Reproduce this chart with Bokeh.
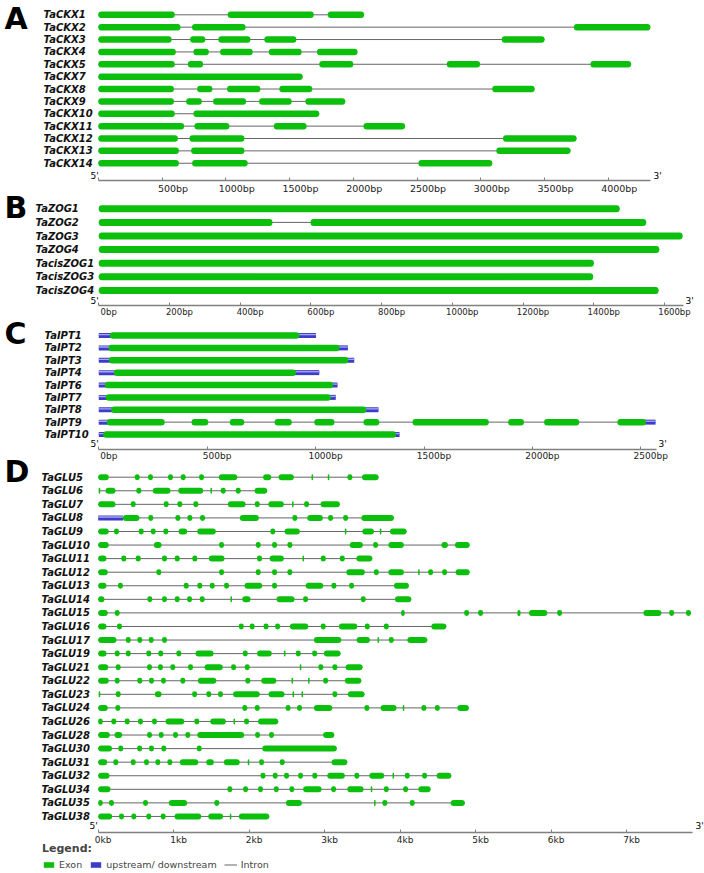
from bokeh.plotting import figure
from bokeh.models import Range1d, LinearAxis, FixedTicker, Label, Legend, LegendItem
from bokeh.embed import file_html
from bokeh.resources import INLINE
from bokeh.core.properties import value

EXON = "#0dbf0d"
UTR = "#3c3cc8"
UTR_HI = "#a9a9f2"
INTRON = "#666666"
AXIS = "#808080"
FONT = "DejaVu Sans"

# ---------------- data (bp) ----------------
ckx_genes = ["TaCKX1", "TaCKX2", "TaCKX3", "TaCKX4", "TaCKX5", "TaCKX7", "TaCKX8",
             "TaCKX9", "TaCKX10", "TaCKX11", "TaCKX12", "TaCKX13", "TaCKX14"]
ckx_exons = [
    [(0, 600), (1015, 1690), (1800, 2085)],
    [(0, 645), (735, 1155), (3730, 4330)],
    [(0, 575), (720, 840), (942, 1193), (1302, 1553), (3164, 3500)],
    [(0, 608), (746, 867), (955, 1211), (1337, 1595), (1715, 2033)],
    [(0, 600), (702, 822), (1733, 2000), (2733, 2994), (3860, 4179)],
    [(0, 1603)],
    [(0, 593), (775, 895), (1010, 1271), (1420, 1678), (3090, 3422)],
    [(0, 593), (689, 812), (900, 1159), (1261, 1517), (1624, 1937)],
    [(0, 600), (746, 1733)],
    [(0, 673), (754, 1028), (1376, 1634), (2080, 2406)],
    [(0, 624), (715, 1146), (3174, 3751)],
    [(0, 632), (728, 1146), (3122, 3704)],
    [(0, 632), (736, 1172), (2511, 3090)],
]
ckx_ticks = [0, 500, 1000, 1500, 2000, 2500, 3000, 3500, 4000]
ckx_tick_labels = ["", "500bp", "1000bp", "1500bp", "2000bp", "2500bp", "3000bp", "3500bp", "4000bp"]
ckx_axis_end = 4330

zog_genes = ["TaZOG1", "TaZOG2", "TaZOG3", "TaZOG4", "TacisZOG1", "TacisZOG3", "TacisZOG4"]
zog_exons = [[(0, 1473)], [(0, 491), (599, 1548)], [(0, 1651)], [(0, 1585)],
             [(0, 1400)], [(0, 1398)], [(0, 1583)]]
zog_ticks = [0, 200, 400, 600, 800, 1000, 1200, 1400, 1600]
zog_tick_labels = ["0bp", "200bp", "400bp", "600bp", "800bp", "1000bp", "1200bp", "1400bp", "1600bp"]
zog_axis_end = 1653

ipt_genes = ["TaIPT1", "TaIPT2", "TaIPT3", "TaIPT4", "TaIPT6", "TaIPT7", "TaIPT8", "TaIPT9", "TaIPT10"]
ipt_utr5_end = [51, 45, 47, 70, 28, 32, 57, 37, 20]
ipt_exons = [
    [(51, 925)], [(45, 1110)], [(47, 1151)], [(70, 909)], [(28, 1081)], [(32, 1070)], [(57, 1234)],
    [(37, 304), (428, 505), (604, 671), (811, 890), (994, 1087), (1221, 1294), (1447, 1799),
     (1888, 1961), (2054, 2216), (2392, 2524)],
    [(20, 1371)],
]
ipt_gene_end = [1002, 1149, 1178, 1017, 1101, 1093, 1290, 2568, 1387]
ipt_ticks = [0, 500, 1000, 1500, 2000, 2500]
ipt_tick_labels = ["0bp", "500bp", "1000bp", "1500bp", "2000bp", "2500bp"]
ipt_axis_end = 2572

glu_genes = ["TaGLU5", "TaGLU6", "TaGLU7", "TaGLU8", "TaGLU9", "TaGLU10", "TaGLU11", "TaGLU12",
             "TaGLU13", "TaGLU14", "TaGLU15", "TaGLU16", "TaGLU17", "TaGLU19", "TaGLU21", "TaGLU22",
             "TaGLU23", "TaGLU24", "TaGLU26", "TaGLU28", "TaGLU30", "TaGLU31", "TaGLU32", "TaGLU34",
             "TaGLU35", "TaGLU38"]
glu_utr5_end = [0, 0, 0, 318, 0, 0, 0, 0, 0, 0, 0, 0, 0, 0, 0, 0, 0, 0, 0, 0, 0, 0, 0, 0, 0, 0]
glu_exons = [
    [(0, 140), (484, 550), (660, 726), (925, 991), (1093, 1159), (1336, 1402), (1598, 1842), (2184, 2292), (2389, 2592), (2826, 2846), (3041, 3061), (3301, 3367), (3493, 3714)],
    [(7, 27), (97, 229), (505, 571), (723, 958), (1060, 1391), (1487, 1507), (1623, 1689), (1822, 1888), (2071, 2239)],
    [(0, 229), (431, 497), (868, 934), (1048, 1114), (1260, 1326), (1717, 1952), (2074, 2140), (2253, 2459), (2568, 2588), (2727, 2793), (2945, 3201)],
    [(326, 547), (664, 730), (1022, 1088), (1181, 1247), (1349, 1415), (1876, 2128), (2572, 2638), (2769, 2976), (3045, 3111), (3244, 3310), (3485, 3917)],
    [(0, 140), (209, 275), (537, 603), (696, 762), (863, 929), (1064, 1179), (1312, 1558), (2280, 2346), (2468, 2671), (3267, 3287), (3498, 3652), (3730, 3750), (3864, 4085)],
    [(0, 140), (737, 839), (1601, 1667), (2087, 2153), (2303, 2369), (2506, 2572), (3330, 3506), (3641, 3707), (3843, 4049), (4545, 4632), (4725, 4920)],
    [(0, 110), (306, 372), (497, 563), (845, 911), (1014, 1080), (1247, 1313), (1465, 1673), (2104, 2170), (2270, 2459), (2706, 2726), (2948, 3014), (3200, 3266), (3419, 3631)],
    [(0, 127), (770, 836), (1601, 1667), (2087, 2153), (2303, 2369), (2506, 2572), (3286, 3532), (3651, 3717), (3843, 4049), (4238, 4258), (4370, 4436), (4555, 4621), (4734, 4920)],
    [(0, 110), (262, 328), (1133, 1199), (1313, 1379), (1478, 1544), (1667, 1733), (1938, 2173), (2303, 2369), (2747, 2981), (3089, 3155), (3323, 3389), (3917, 4115)],
    [(0, 83), (651, 717), (845, 911), (1014, 1080), (1177, 1243), (1345, 1411), (1752, 1772), (1908, 2018), (2362, 2601), (2714, 2780), (3478, 3544), (3930, 4147)],
    [(0, 127), (219, 285), (4013, 4059), (4847, 4913), (5032, 5098), (5553, 5593), (5705, 5949), (6079, 6145), (7221, 7460), (7563, 7629), (7785, 7851)],
    [(0, 110), (249, 315), (1862, 1928), (2007, 2073), (2190, 2256), (2343, 2409), (2539, 2783), (2948, 3014), (3188, 3432), (3531, 3597), (3783, 3849), (4412, 4611)],
    [(0, 242), (365, 431), (518, 584), (669, 735), (845, 911), (2857, 3220), (3422, 3599), (3700, 3720), (3849, 3915), (4094, 4359)],
    [(0, 110), (219, 285), (365, 431), (637, 703), (796, 862), (1035, 1101), (1289, 1528), (1915, 1981), (2104, 2299), (2460, 2480), (2617, 2683), (2834, 2900), (2989, 3210)],
    [(0, 133), (232, 298), (647, 713), (792, 858), (955, 1021), (1190, 1256), (1408, 1650), (1760, 1826), (1941, 2007), (2670, 2690), (2916, 2982), (3102, 3168), (3277, 3502)],
    [(0, 140), (219, 285), (518, 584), (673, 739), (832, 898), (1088, 1154), (1320, 1564), (1949, 2015), (2160, 2359), (2561, 2581), (2780, 2800), (2979, 3045), (3267, 3485)],
    [(7, 27), (232, 298), (750, 839), (1244, 1310), (1432, 1498), (1587, 1653), (1786, 2140), (2256, 2468), (2574, 2594), (2693, 2713), (3102, 3168), (3307, 3528)],
    [(0, 127), (227, 293), (1909, 1975), (2074, 2140), (2482, 2548), (2634, 2700), (2857, 3101), (3526, 3592), (3740, 3952), (4034, 4054), (4281, 4347), (4459, 4525), (4757, 4910)],
    [(0, 60), (174, 240), (351, 417), (527, 593), (713, 779), (892, 1140), (1273, 1339), (1484, 1691), (1792, 1812), (1932, 1998), (2117, 2385)],
    [(0, 154), (216, 318), (647, 713), (802, 868), (991, 1057), (1154, 1220), (1312, 1934), (2078, 2144), (2263, 2329), (2979, 3127)],
    [(0, 183), (266, 332), (516, 582), (673, 739), (836, 902), (1305, 1371), (2173, 3161)],
    [(0, 119), (200, 266), (431, 497), (607, 673), (757, 823), (916, 982), (1081, 1325), (1431, 1532), (1664, 1875), (1981, 2001), (2131, 2197), (2405, 2471), (3091, 3299)],
    [(0, 150), (2150, 2216), (2312, 2378), (2462, 2528), (2647, 2713), (2836, 2902), (3034, 3267), (3393, 3459), (3591, 3789), (3899, 3919), (4061, 4127), (4290, 4356), (4482, 4677)],
    [(0, 163), (1711, 1777), (1919, 1985), (2117, 2183), (2326, 2392), (2532, 2598), (2714, 2959), (3085, 3151), (3299, 3515), (3610, 3630), (3783, 3849), (4039, 4105), (4240, 4403)],
    [(0, 60), (143, 209), (594, 660), (935, 1179), (1538, 1604), (2486, 2698), (3654, 3674), (3764, 3830), (4127, 4193), (4668, 4857)],
    [(0, 185), (276, 342), (439, 505), (637, 703), (828, 894), (1011, 1365), (1457, 1654), (1743, 1763), (1863, 2266)],
]
glu_ticks = [0, 1000, 2000, 3000, 4000, 5000, 6000, 7000]
glu_tick_labels = ["0kb", "1kb", "2kb", "3kb", "4kb", "5kb", "6kb", "7kb"]
glu_axis_end = 7868

legend_labels = ["Exon", "upstream/ downstream", "Intron"]

# ---------------- one canvas, one horizontal bp-scale per panel ----------------
W, H = 704, 873


def xr(px0, ppu):
    # horizontal range (bp) such that bp 0 sits at pixel px0 and 1 bp = ppu px
    return Range1d((0 - px0) / ppu, (W - px0) / ppu)


A_PX0, A_PPU = 97.8, 0.1275
B_PX0, B_PPU = 98.3, 0.3536
C_PX0, C_PPU = 98.3, 0.2168
D_PX0, D_PPU = 97.7, 0.0755

p = figure(width=W, height=H, x_range=xr(A_PX0, A_PPU), y_range=Range1d(H, 0),
           x_axis_type=None, y_axis_type=None, toolbar_location=None,
           output_backend="svg", min_border=0, outline_line_color=None)
p.min_border_left = p.min_border_right = p.min_border_top = p.min_border_bottom = 0
p.extra_x_ranges = {"B": xr(B_PX0, B_PPU), "C": xr(C_PX0, C_PPU), "D": xr(D_PX0, D_PPU)}


def draw_genes(rn, px0, ppu, row0, step, genes, exons, label_px, exon_h, utr5=None, gene_end=None, utr_h=5.0):
    n = len(genes)
    rows = [row0 + i * step for i in range(n)]
    ix0, ix1, iy = [], [], []
    ul, ur, uy = [], [], []
    el, er, ey = [], [], []
    for i, ex in enumerate(exons):
        start = min(a for a, b in ex)
        end = max(b for a, b in ex)
        if utr5 is not None and utr5[i] > 0:
            ul.append(0); ur.append(utr5[i] + 10); uy.append(rows[i])
            start = 0
        if gene_end is not None and gene_end[i] > end:
            ul.append(end - 10); ur.append(gene_end[i]); uy.append(rows[i])
            end = gene_end[i]
        ix0.append(start); ix1.append(end); iy.append(rows[i])
        for a, b in ex:
            el.append(a); er.append(b); ey.append(rows[i])
    r_int = p.segment(x0=ix0, y0=iy, x1=ix1, y1=iy, line_color=INTRON, line_width=1, x_range_name=rn)
    r_utr = None
    if ul:
        r_utr = p.hbar(y=uy, left=ul, right=ur, height=utr_h, fill_color=UTR, line_color=None, x_range_name=rn)
        p.hbar(y=[v - 0.9 for v in uy], left=ul, right=ur, height=1.3,
               fill_color=UTR_HI, line_color=None, x_range_name=rn)
    r_ex = p.hbar(y=ey, left=el, right=er, height=exon_h, fill_color=EXON,
                  line_color=None, border_radius=3, x_range_name=rn)
    lx = (label_px - px0) / ppu
    p.text(x=[lx] * n, y=rows, text=genes, text_font=value(FONT),
           text_font_style="bold italic", text_font_size="10px", text_baseline="middle",
           text_align="left", text_color="#111111", x_range_name=rn)
    return r_int, r_utr, r_ex


def add_axis(rn, ppu, axis_py, end, ticks, labels, fs, shift_px):
    ax = LinearAxis(x_range_name=rn, fixed_location=axis_py, bounds=(0, end),
                    ticker=FixedTicker(ticks=ticks), major_label_overrides={t: "" for t in ticks})
    ax.axis_line_color = AXIS
    ax.axis_line_width = 1.5
    ax.major_tick_in = 3
    ax.major_tick_out = 0
    ax.major_tick_line_color = AXIS
    ax.minor_tick_line_color = None
    ax.major_label_text_font_size = fs
    p.add_layout(ax, "below")
    # tick labels: in the reference each label starts just left of its tick
    lt = [round(t + shift_px / ppu) for t, l in zip(ticks, labels) if l]
    ll = [l for l in labels if l]
    lab = LinearAxis(x_range_name=rn, fixed_location=axis_py, ticker=FixedTicker(ticks=lt),
                     major_label_overrides={t: l for t, l in zip(lt, ll)})
    lab.axis_line_color = None
    lab.major_tick_line_color = None
    lab.minor_tick_line_color = None
    lab.major_tick_in = 0
    lab.major_tick_out = 0
    lab.major_label_standoff = 2
    lab.major_label_text_font = FONT
    lab.major_label_text_font_size = fs
    lab.major_label_text_color = "#222222"
    p.add_layout(lab, "below")


def add_text(rn, px0, ppu, x_px, y_px, text, size, style="normal"):
    p.add_layout(Label(x=(x_px - px0) / ppu, y=y_px, x_range_name=rn, text=text, text_font=FONT,
                       text_font_size=size, text_font_style=style, text_align="left",
                       text_baseline="middle", text_color="#000000"))


# ---------------- Panel A ----------------
draw_genes("default", A_PX0, A_PPU, 14.3, 12.37, ckx_genes, ckx_exons, 43, 6.5)
add_axis("default", A_PPU, 180, ckx_axis_end, ckx_ticks, ckx_tick_labels, "9.5px", 11)
add_text("default", A_PX0, A_PPU, 4, 18, "A", "30px", "bold")
add_text("default", A_PX0, A_PPU, 90, 175, "5'", "9px")
add_text("default", A_PX0, A_PPU, 653, 175, "3'", "9px")

# ---------------- Panel B ----------------
draw_genes("B", B_PX0, B_PPU, 208.3, 13.6, zog_genes, zog_exons, 35, 7)
add_axis("B", B_PPU, 304.5, zog_axis_end, zog_ticks, zog_tick_labels, "8.5px", 10)
add_text("B", B_PX0, B_PPU, 4, 207, "B", "30px", "bold")
add_text("B", B_PX0, B_PPU, 90, 300, "5'", "9px")
add_text("B", B_PX0, B_PPU, 685, 300, "3'", "9px")

# ---------------- Panel C ----------------
draw_genes("C", C_PX0, C_PPU, 335, 12.375, ipt_genes, ipt_exons, 44, 6.5,
           utr5=ipt_utr5_end, gene_end=ipt_gene_end)
add_axis("C", C_PPU, 448.5, ipt_axis_end, ipt_ticks, ipt_tick_labels, "9px", 10)
add_text("C", C_PX0, C_PPU, 4, 333, "C", "30px", "bold")
add_text("C", C_PX0, C_PPU, 90, 443.5, "5'", "9px")
add_text("C", C_PX0, C_PPU, 658, 443.5, "3'", "9px")

# ---------------- Panel D ----------------
r_int, r_utr, r_ex = draw_genes("D", D_PX0, D_PPU, 476.7, 13.57, glu_genes, glu_exons, 41, 6,
                                utr5=glu_utr5_end)
add_axis("D", D_PPU, 832, glu_axis_end, glu_ticks, glu_tick_labels, "9px", 5)
add_text("D", D_PX0, D_PPU, 4, 470.5, "D", "30px", "bold")
add_text("D", D_PX0, D_PPU, 89, 825.5, "5'", "9px")
add_text("D", D_PX0, D_PPU, 695, 825.5, "3'", "9px")

legend = Legend(items=[LegendItem(label=legend_labels[0], renderers=[r_ex]),
                       LegendItem(label=legend_labels[1], renderers=[r_utr]),
                       LegendItem(label=legend_labels[2], renderers=[r_int])],
                orientation="horizontal", location=(42, 3), title="Legend:")
legend.title_text_font = FONT
legend.title_text_font_style = "bold"
legend.title_text_font_size = "11px"
legend.title_standoff = 4
legend.label_text_font = FONT
legend.label_text_font_size = "9.5px"
legend.label_height = 10
legend.glyph_height = 7
legend.glyph_width = 13
legend.label_standoff = 4
legend.spacing = 7
legend.padding = 0
legend.margin = 0
legend.border_line_color = None
legend.background_fill_alpha = 0
p.add_layout(legend)

open("out.html", "w").write(file_html(p, INLINE))
